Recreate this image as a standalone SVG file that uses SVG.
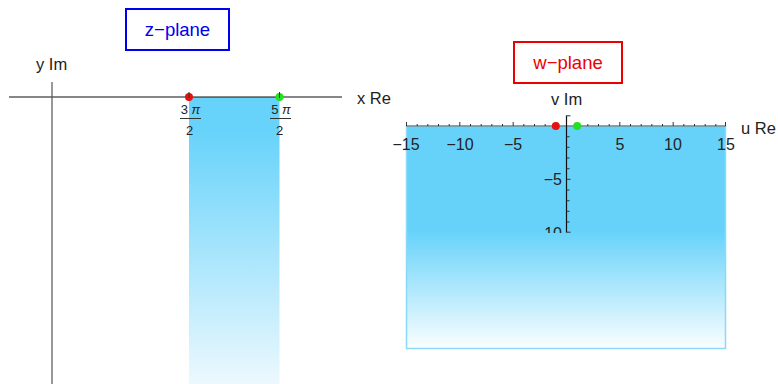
<svg xmlns="http://www.w3.org/2000/svg" width="778" height="384" viewBox="0 0 778 384">
<style>
text{font-family:"Liberation Sans",Arial,sans-serif;fill:#222}
.lab{font-size:16.5px}
.tk{font-size:16px;text-anchor:middle}
.fr{font-size:13px;text-anchor:middle}
.ax{stroke:#111;stroke-width:1.2;fill:none}
.tick{stroke:#333;stroke-width:1;fill:none}
</style>
<defs>
<linearGradient id="gz" gradientUnits="userSpaceOnUse" x1="0" y1="97" x2="0" y2="395">
<stop offset="0" stop-color="#66D2FA"/>
<stop offset="0.12" stop-color="#68D3FA"/>
<stop offset="1" stop-color="#F2FAFE"/>
</linearGradient>
<linearGradient id="gw" gradientUnits="userSpaceOnUse" x1="0" y1="126" x2="0" y2="349">
<stop offset="0" stop-color="#66D2FA"/>
<stop offset="0.47" stop-color="#66D2FA"/>
<stop offset="1" stop-color="#FBFEFF"/>
</linearGradient>
<clipPath id="cl"><rect x="500" y="110" width="100" height="123"/></clipPath>
</defs>

<g id="z-title">
<rect x="126" y="9" width="103" height="41" fill="#fff" stroke="#0000EE" stroke-width="2"/>
<text x="177.5" y="36" style="font-size:18.5px;fill:#0000EE;text-anchor:middle">z−plane</text>
</g>

<g id="z-plane">
<rect x="189" y="97" width="90.5" height="287" fill="url(#gz)"/>
<line class="ax" x1="9" y1="97" x2="342" y2="97"/>
<line x1="52" y1="82" x2="52" y2="384" stroke="#555" stroke-width="1.2"/>
<text class="lab" x="36" y="70">y Im</text>
<text class="lab" x="357" y="104">x Re</text>
<line class="tick" x1="189" y1="92" x2="189" y2="101"/>
<line class="tick" x1="279.5" y1="92" x2="279.5" y2="101"/>
<circle cx="189" cy="97" r="4" fill="#E81010"/>
<circle cx="279.5" cy="97" r="4" fill="#22E022"/>
<line class="tick" x1="189" y1="93" x2="189" y2="98"/>
<line class="tick" x1="279.5" y1="93" x2="279.5" y2="98"/>
<text class="fr" x="190.5" y="114">3 <tspan font-style="italic">π</tspan></text>
<line x1="180" y1="118.5" x2="201" y2="118.5" stroke="#333" stroke-width="1"/>
<text class="fr" x="189.5" y="135">2</text>
<text class="fr" x="281" y="114">5 <tspan font-style="italic">π</tspan></text>
<line x1="270" y1="118.5" x2="291" y2="118.5" stroke="#333" stroke-width="1"/>
<text class="fr" x="279.5" y="135">2</text>
</g>

<g id="w-title">
<rect x="514" y="42" width="108" height="41" fill="#fff" stroke="#EE0000" stroke-width="2"/>
<text x="568" y="69" style="font-size:18.5px;fill:#EE0000;text-anchor:middle">w−plane</text>
</g>

<g id="w-plane">
<rect x="406.5" y="126" width="319" height="222.5" fill="url(#gw)" stroke="#88DAF8" stroke-width="1.5"/>
<line x1="406" y1="126" x2="726" y2="126" stroke="#666" stroke-width="1.2"/>
<path class="tick" d="M406.5 126v-4M417.2 126v-2M427.8 126v-2M438.5 126v-2M449.2 126v-2M459.8 126v-4M470.5 126v-2M481.2 126v-2M491.8 126v-2M502.5 126v-2M513.2 126v-4M523.8 126v-2M534.5 126v-2M545.2 126v-2M555.8 126v-2M577.2 126v-2M587.8 126v-2M598.5 126v-2M609.2 126v-2M619.8 126v-4M630.5 126v-2M641.2 126v-2M651.8 126v-2M662.5 126v-2M673.2 126v-4M683.8 126v-2M694.5 126v-2M705.2 126v-2M715.8 126v-2M725.5 126v-4"/>
<line x1="566.5" y1="115.5" x2="566.5" y2="232.5" stroke="#111" stroke-width="1.2"/>
<path class="tick" d="M566.5 115.8h4M566.5 136.7h3M566.5 147.3h3M566.5 158h3M566.5 168.7h3M566.5 179.3h4M566.5 190h3M566.5 200.7h3M566.5 211.3h3M566.5 222h3M566.5 232.2h4"/>
<text class="tk" x="406" y="149.5">−15</text>
<text class="tk" x="460" y="149.5">−10</text>
<text class="tk" x="513" y="149.5">−5</text>
<text class="tk" x="620" y="149.5">5</text>
<text class="tk" x="673" y="149.5">10</text>
<text class="tk" x="726" y="149.5">15</text>
<text class="tk" x="562" y="185" text-anchor="end" style="text-anchor:end">−5</text>
<text class="tk" x="562" y="239" style="text-anchor:end" clip-path="url(#cl)">−10</text>
<circle cx="555.8" cy="126" r="4" fill="#E81010"/>
<circle cx="577.2" cy="126" r="4" fill="#22E022"/>
<text class="lab" x="551" y="105">v Im</text>
<text class="lab" x="741" y="134">u Re</text>
</g>
</svg>
